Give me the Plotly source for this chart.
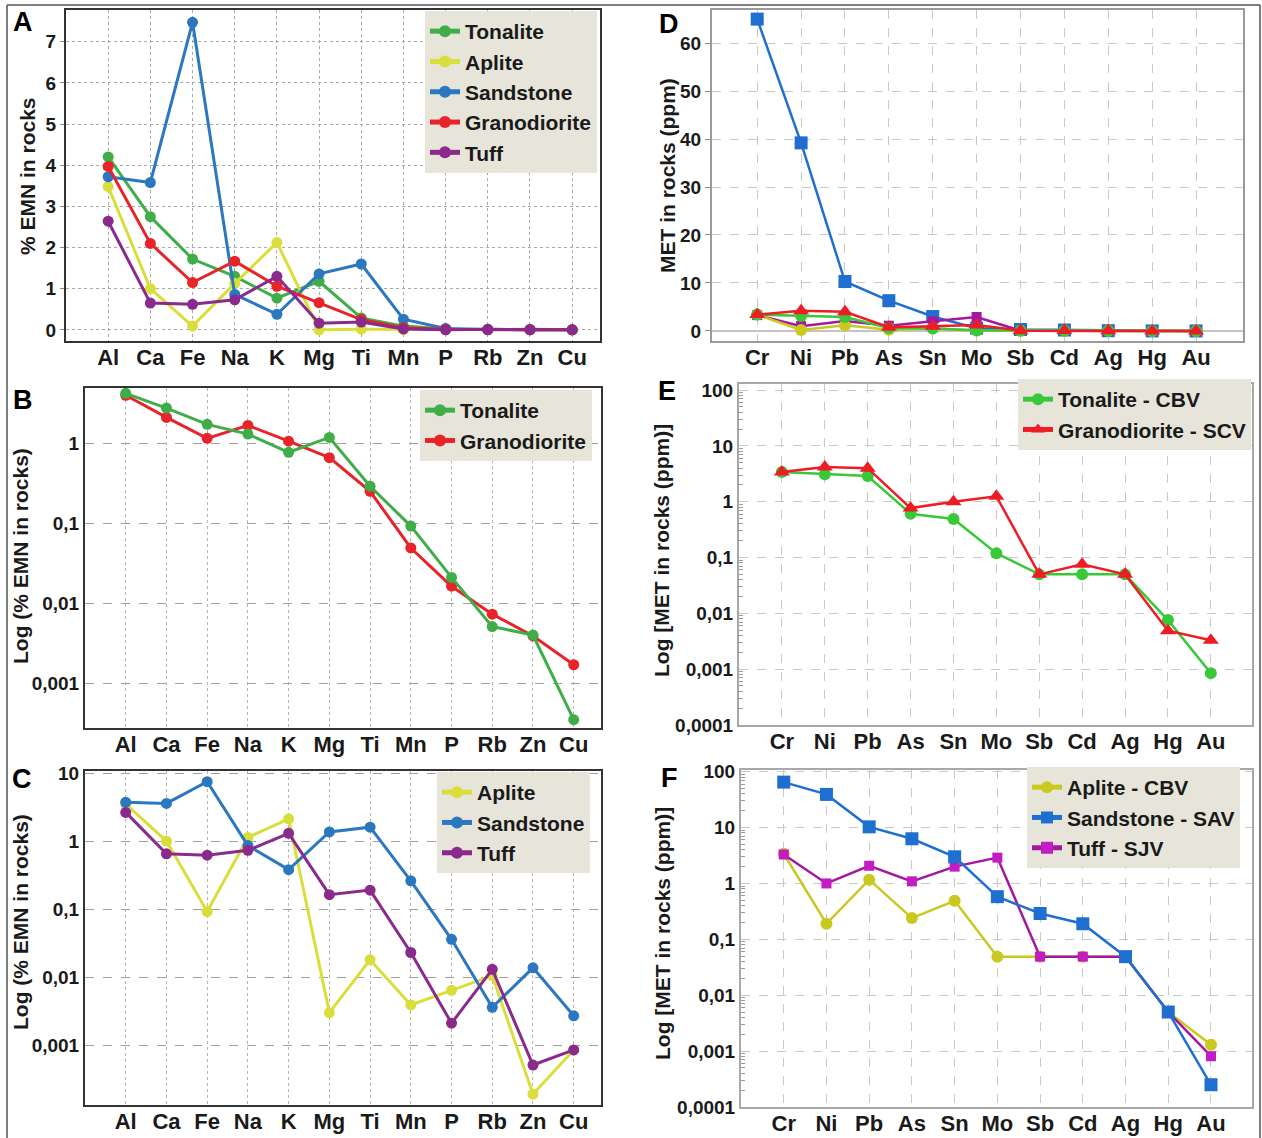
import plotly.graph_objects as go

W, H = 1262, 1138

# ---------------- data ----------------
major_elements = ["Al", "Ca", "Fe", "Na", "K", "Mg", "Ti", "Mn", "P", "Rb", "Zn", "Cu"]
emn_tonalite = [4.2, 2.75, 1.72, 1.30, 0.77, 1.18, 0.29, 0.092, 0.021, 0.0051, 0.0040, 0.00035]
emn_aplite = [3.48, 1.0, 0.092, 1.13, 2.12, 0.0030, 0.018, 0.0039, 0.0064, 0.0105, 0.00019, 0.00085]
emn_sandstone = [3.72, 3.58, 7.47, 0.86, 0.38, 1.36, 1.60, 0.26, 0.036, 0.0036, 0.0137, 0.0027]
emn_granodiorite = [3.97, 2.1, 1.15, 1.67, 1.06, 0.66, 0.25, 0.049, 0.0163, 0.0073, 0.0039, 0.0017]
emn_tuff = [2.64, 0.65, 0.62, 0.73, 1.30, 0.163, 0.19, 0.023, 0.0021, 0.013, 0.00051, 0.00085]

trace_metals = ["Cr", "Ni", "Pb", "As", "Sn", "Mo", "Sb", "Cd", "Ag", "Hg", "Au"]
met_tonalite = [3.4, 3.1, 2.9, 0.61, 0.49, 0.12, 0.05, 0.05, 0.05, 0.0076, 0.00085]
met_granodiorite = [3.4, 4.2, 4.0, 0.77, 1.0, 1.25, 0.05, 0.076, 0.05, 0.0049, 0.0033]
met_aplite = [3.4, 0.19, 1.17, 0.24, 0.49, 0.049, 0.049, 0.049, 0.049, 0.005, 0.0013]
met_sandstone = [65, 39.2, 10.3, 6.3, 3.0, 0.58, 0.29, 0.19, 0.049, 0.005, 0.00025]
met_tuff = [3.3, 1.0, 2.07, 1.09, 2.0, 2.9, 0.049, 0.049, 0.049, 0.005, 0.00081]

ticks_A = [0, 1, 2, 3, 4, 5, 6, 7]
ticks_D = [0, 10, 20, 30, 40, 50, 60]
log_ticks_BC = [0.001, 0.01, 0.1, 1, 10]
log_labels_BC = ["0,001", "0,01", "0,1", "1", "10"]
log_ticks_EF = [0.0001, 0.001, 0.01, 0.1, 1, 10, 100]
log_labels_EF = ["0,0001", "0,001", "0,01", "0,1", "1", "10", "100"]

# ---------------- styles ----------------
FONT = "Liberation Sans, Arial, Helvetica, sans-serif"
C_TON = "#3fae49"
C_APL = "#d9de3a"
C_SAN = "#2b78c0"
C_GRA = "#e8232a"
C_TUF = "#8a2a8c"

C_TON2 = "#38c838"
C_GRA2 = "#ee1c25"
C_APL2 = "#c9c91f"
C_SAN2 = "#1f6fd0"
C_TUF2 = "#a3189f"


def px_x(p):
    return p / W


def px_y(p):
    return 1 - p / H


fig = go.Figure()

# panel geometry in pixels: left, right, top, bottom
panels = {
    "A": (66, 600, 10, 341),
    "B": (85, 601, 388, 728),
    "C": (85, 601, 771, 1105),
    "D": (712, 1243, 10, 341),
    "E": (739, 1252, 384, 725),
    "F": (741, 1252, 770, 1107),
}
axis_ids = {"A": ("x", "y"), "B": ("x2", "y2"), "C": ("x3", "y3"),
            "D": ("x4", "y4"), "E": ("x5", "y5"), "F": ("x6", "y6")}


def add(panel, x, y, name, color, symbol="circle", size=11, width=3,
        legend=None, mcolor=None, rank=None):
    xa, ya = axis_ids[panel]
    fig.add_trace(go.Scatter(
        x=x, y=y, name=name, mode="lines+markers",
        line=dict(color=color, width=width),
        marker=dict(color=mcolor or color, size=size, symbol=symbol),
        xaxis=xa, yaxis=ya,
        showlegend=legend is not None,
        legend=legend or "legend",
        legendrank=rank if rank is not None else 1000,
    ))


# Panel A
add("A", major_elements, emn_tonalite, "Tonalite", C_TON, legend="legend", rank=1)
add("A", major_elements, emn_aplite, "Aplite", C_APL, legend="legend", rank=2)
add("A", major_elements, emn_sandstone, "Sandstone", C_SAN, legend="legend", rank=3)
add("A", major_elements, emn_granodiorite, "Granodiorite", C_GRA, legend="legend", rank=4)
add("A", major_elements, emn_tuff, "Tuff", C_TUF, legend="legend", rank=5)

# Panel B
add("B", major_elements, emn_granodiorite, "Granodiorite", C_GRA, legend="legend2", rank=2)
add("B", major_elements, emn_tonalite, "Tonalite", C_TON, legend="legend2", rank=1)

# Panel C
add("C", major_elements, emn_aplite, "Aplite", C_APL, legend="legend3", rank=1)
add("C", major_elements, emn_sandstone, "Sandstone", C_SAN, legend="legend3", rank=2)
add("C", major_elements, emn_tuff, "Tuff", C_TUF, legend="legend3", rank=3)

# Panel D
add("D", trace_metals, met_sandstone, "Sandstone", C_SAN2, symbol="square", size=13, width=2.5)
add("D", trace_metals, met_tuff, "Tuff", C_TUF2, symbol="square", size=10, width=2.5)
add("D", trace_metals, met_aplite, "Aplite", C_APL2, size=12, width=2.5)
add("D", trace_metals, met_tonalite, "Tonalite", C_TON2, size=12, width=2.5)
add("D", trace_metals, met_granodiorite, "Granodiorite", C_GRA2, symbol="triangle-up", size=14, width=2.5)

# Panel E
add("E", trace_metals, met_tonalite, "Tonalite - CBV", C_TON2, size=12, width=2.5, legend="legend4", rank=1)
add("E", trace_metals, met_granodiorite, "Granodiorite - SCV", C_GRA2, symbol="triangle-up", size=14,
    width=2.5, legend="legend4", rank=2)

# Panel F
add("F", trace_metals, met_aplite, "Aplite - CBV", C_APL2, size=12, width=2.5, legend="legend5", rank=1)
add("F", trace_metals, met_tuff, "Tuff - SJV", C_TUF2, symbol="square", size=10, width=2.5,
    legend="legend5", rank=3, mcolor="#c21cc2")
add("F", trace_metals, met_sandstone, "Sandstone - SAV", C_SAN2, symbol="square", size=13, width=2.5,
    legend="legend5", rank=2)

# ---------------- axes ----------------
tickfont_x = dict(family=FONT, size=22, color="#1a1a1a", weight="bold")
tickfont_y = dict(family=FONT, size=19, color="#1a1a1a", weight="bold")

layout_axes = {}


def set_axes(panel, xrange, yrange, ytype, yticks, ylabels, frame_color,
             frame_width, mirror, xgriddash, ygriddash, gridcolor, ygridcolor, minor=None,
             zeroline=False, yticklen=0, ystandoff=0):
    l, r, t, b = panels[panel]
    xa, ya = axis_ids[panel]
    xkey = "xaxis" if xa == "x" else "xaxis" + xa[1:]
    ykey = "yaxis" if ya == "y" else "yaxis" + ya[1:]
    layout_axes[xkey] = dict(
        domain=[px_x(l), px_x(r)], anchor=ya, type="category",
        range=xrange, showgrid=True, gridcolor=gridcolor, griddash=xgriddash, gridwidth=1,
        showline=True, linecolor=frame_color, linewidth=frame_width, mirror=mirror,
        ticks="", tickfont=tickfont_x, automargin=False, zeroline=False,
        ticklabelstandoff=-4,
    )
    yd = dict(
        domain=[px_y(b), px_y(t)], anchor=xa, type=ytype,
        range=yrange, showgrid=True, gridcolor=ygridcolor, griddash=ygriddash, gridwidth=1.3,
        showline=True, linecolor=frame_color, linewidth=frame_width, mirror=mirror,
        tickmode="array", tickvals=yticks, ticktext=ylabels,
        ticks="outside" if yticklen else "", ticklen=yticklen, tickcolor="#888",
        tickfont=tickfont_y, automargin=False,
        zeroline=zeroline, zerolinecolor="#c4c4c4", zerolinewidth=2,
        ticklabelstandoff=ystandoff,
    )
    if minor is not None:
        yd["minor"] = minor
    layout_axes[ykey] = yd


set_axes("A", [-1.0, 11.66], [-0.27, 7.77], "linear", ticks_A, [str(v) for v in ticks_A],
         "#333333", 2, True, "dot", "dot", "#a8a8a8", "#a8a8a8", yticklen=4, ystandoff=0)
set_axes("B", [-1.0, 11.67], [-3.56, 0.69], "log", log_ticks_BC[:4], log_labels_BC[:4],
         "#333333", 2, True, "dot", "dash", "#b4b4b4", "#a0a0a0", ystandoff=0)
set_axes("C", [-1.0, 11.67], [-3.88, 1.03], "log", log_ticks_BC, log_labels_BC,
         "#333333", 2, True, "dot", "dash", "#b4b4b4", "#a0a0a0", ystandoff=0)
set_axes("D", [-1.03, 11.07], [-2.1, 66.9], "linear", ticks_D, [str(v) for v in ticks_D],
         "#9a9a9a", 2, True, "dash", "dash", "#c8c8c8", "#c8c8c8", zeroline=True, yticklen=5,
         ystandoff=0)

minor_vals = [m * d for d in [0.0001, 0.001, 0.01, 0.1, 1, 10] for m in range(2, 10)]
minor_style = dict(tickmode="array", tickvals=minor_vals, ticks="inside", ticklen=4,
                   tickcolor="#9a9a9a", tickwidth=1, showgrid=False)
set_axes("E", [-1.0, 10.96], [-4, 2.11], "log", log_ticks_EF, log_labels_EF,
         "#a8a8a8", 2, True, "dash", "dash", "#c8c8c8", "#c8c8c8", minor=minor_style)
set_axes("F", [-1.0, 10.96], [-4, 2.03], "log", log_ticks_EF, log_labels_EF,
         "#a8a8a8", 2, True, "dash", "dash", "#c8c8c8", "#c8c8c8", minor=minor_style)

# ---------------- legends ----------------
legend_font = dict(family=FONT, size=21, color="#1a1a1a", weight="bold")


def leg(xp, yp):
    return dict(x=px_x(xp), y=px_y(yp), xanchor="left", yanchor="top",
                bgcolor="#e7e5d9", borderwidth=0, font=legend_font,
                itemsizing="constant", tracegroupgap=0, traceorder="normal")


# ---------------- annotations ----------------
annotations = []
letter_font = dict(family=FONT, size=27, color="#000000", weight="bold")
for letter, (lx, ly) in {"A": (23, 22), "B": (23, 400), "C": (22, 779),
                         "D": (669, 24), "E": (667, 391), "F": (669, 778)}.items():
    annotations.append(dict(text=letter, x=px_x(lx), y=px_y(ly), xref="paper", yref="paper",
                            showarrow=False, font=letter_font, xanchor="center", yanchor="middle"))

title_font = dict(family=FONT, size=21, color="#1a1a1a", weight="bold")
titles = [
    ("% EMN in rocks", 27, 176),
    ("Log (% EMN in rocks)", 20, 556),
    ("Log (% EMN in rocks)", 20, 922),
    ("MET in rocks (ppm)", 667, 176),
    ("Log [MET in rocks (ppm)]", 661, 551),
    ("Log [MET in rocks (ppm)]", 662, 934),
]
for txt, tx, ty in titles:
    annotations.append(dict(text=txt, x=px_x(tx), y=px_y(ty), xref="paper", yref="paper",
                            showarrow=False, font=title_font, textangle=-90,
                            xanchor="center", yanchor="middle"))

border = dict(color="#555555", width=1.5)
shapes = [
    dict(type="line", xref="paper", yref="paper", x0=px_x(7), x1=px_x(1260),
         y0=px_y(5), y1=px_y(5), line=border),
    dict(type="line", xref="paper", yref="paper", x0=px_x(7), x1=px_x(7),
         y0=px_y(5), y1=0, line=border),
    dict(type="line", xref="paper", yref="paper", x0=px_x(1260), x1=px_x(1260),
         y0=px_y(5), y1=0, line=border),
]

fig.update_layout(
    template="none",
    width=W, height=H,
    margin=dict(l=0, r=0, t=0, b=0),
    paper_bgcolor="white", plot_bgcolor="white",
    font=dict(family=FONT, color="#1a1a1a"),
    legend=leg(425, 11),
    legend2=leg(420, 390),
    legend3=leg(437, 772),
    legend4=leg(1018, 379),
    legend5=leg(1027, 767),
    annotations=annotations,
    shapes=shapes,
    **layout_axes,
)

fig.write_html("out.html", config={"displayModeBar": False},
               post_script="document.body.style.margin='0';document.body.style.overflow='hidden';")
